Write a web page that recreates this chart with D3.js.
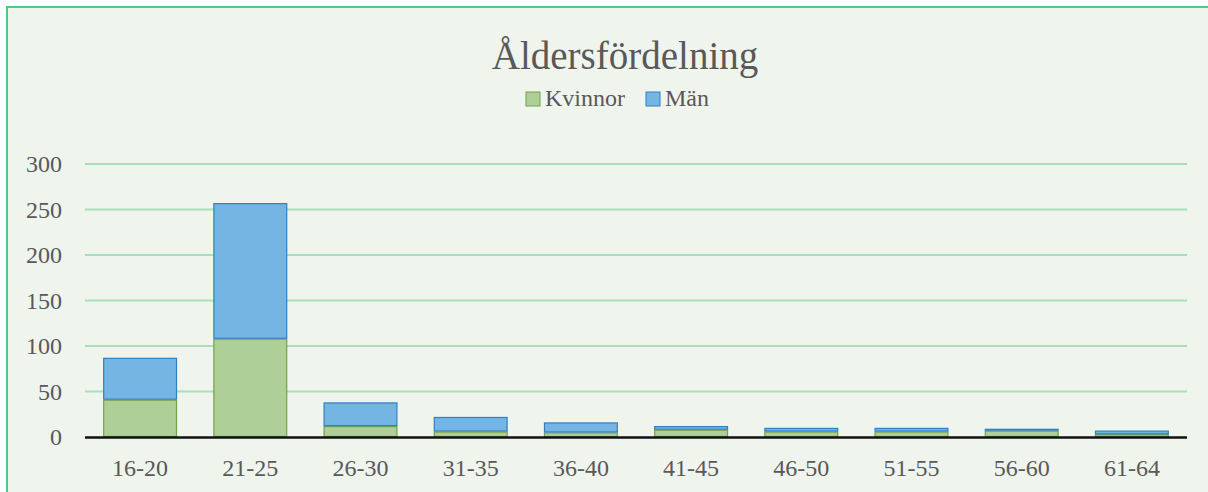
<!DOCTYPE html>
<html>
<head>
<meta charset="utf-8">
<script src="https://cdn.jsdelivr.net/npm/d3@7"></script>
<style>
  html, body { margin: 0; padding: 0; background: #ffffff; }
  svg { display: block; }
  text { font-family: "Liberation Serif", serif; fill: #595959; }
</style>
</head>
<body>
<svg id="chart"></svg>
<script>
// Chart data
const categories = ['16-20', '21-25', '26-30', '31-35', '36-40', '41-45', '46-50', '51-55', '56-60', '61-64'];
const kvinnor = [41, 108, 12, 6, 5, 8, 6, 6, 7, 3];
const man = [46, 149, 26, 16, 11, 4, 4, 4, 2, 4];
const seriesNames = ['Kvinnor', 'Män'];
const yTicks = [0, 50, 100, 150, 200, 250, 300];

const W = 1208, H = 492;
const margin = { top: 164, right: 21, bottom: 55, left: 85 };

const svg = d3.select('#chart')
    .attr('width', W)
    .attr('height', H);

// Background and border (top and left visible)
svg.append('rect')
    .attr('x', 6).attr('y', 6)
    .attr('width', W - 6).attr('height', H - 6)
    .attr('fill', '#eff4ed');
svg.append('path')
    .attr('d', `M7,${H} V7 H${W}`)
    .attr('fill', 'none')
    .attr('stroke', '#4fcb7f')
    .attr('stroke-width', 2);

const x = d3.scaleBand()
    .domain(categories)
    .range([margin.left, W - margin.right])
    .paddingInner(0.33)
    .paddingOuter(0.165);

const y = d3.scaleLinear()
    .domain([0, 300])
    .range([H - margin.bottom, margin.top]);

// Gridlines
svg.append('g')
    .selectAll('line')
    .data(yTicks.filter(d => d > 0))
    .enter()
    .append('line')
    .attr('x1', margin.left)
    .attr('x2', W - margin.right)
    .attr('y1', d => y(d))
    .attr('y2', d => y(d))
    .attr('stroke', '#a5e0b9')
    .attr('stroke-width', 2);

// Stack data
const rows = categories.map((c, i) => ({ cat: c, Kvinnor: kvinnor[i], 'Män': man[i] }));
const stacked = d3.stack().keys(seriesNames)(rows);
const fills = { 'Kvinnor': '#aecf98', 'Män': '#75b5e4' };
const strokes = { 'Kvinnor': '#72a24c', 'Män': '#2f80c4' };

svg.append('g')
    .selectAll('g')
    .data(stacked)
    .enter()
    .append('g')
    .attr('fill', d => fills[d.key])
    .attr('stroke', d => strokes[d.key])
    .attr('stroke-width', 1.2)
    .selectAll('rect')
    .data(d => d)
    .enter()
    .append('rect')
    .attr('x', d => x(d.data.cat) + 0.5)
    .attr('y', d => y(d[1]) + 0.5)
    .attr('width', x.bandwidth() - 1)
    .attr('height', d => Math.max(0, y(d[0]) - y(d[1]) - 1));

// Zero axis line
svg.append('line')
    .attr('x1', margin.left)
    .attr('x2', W - margin.right)
    .attr('y1', y(0) + 0.5)
    .attr('y2', y(0) + 0.5)
    .attr('stroke', '#111')
    .attr('stroke-width', 2.5);

// Y axis labels
svg.append('g')
    .selectAll('text')
    .data(yTicks)
    .enter()
    .append('text')
    .attr('x', 62)
    .attr('y', d => y(d) + 8)
    .attr('text-anchor', 'end')
    .attr('font-size', 24)
    .text(d => d);

// X axis labels
svg.append('g')
    .selectAll('text')
    .data(categories)
    .enter()
    .append('text')
    .attr('x', d => x(d) + x.bandwidth() / 2)
    .attr('y', y(0) + 39)
    .attr('text-anchor', 'middle')
    .attr('font-size', 24)
    .text(d => d);

// Title
svg.append('text')
    .attr('x', 625)
    .attr('y', 69)
    .attr('text-anchor', 'middle')
    .attr('font-size', 39)
    .text('Åldersfördelning');

// Legend
const legendX = [526, 646];
const legend = svg.append('g')
    .selectAll('g')
    .data(seriesNames)
    .enter()
    .append('g')
    .attr('transform', (d, i) => `translate(${legendX[i]},92)`);
legend.append('rect')
    .attr('width', 14).attr('height', 14)
    .attr('fill', d => fills[d])
    .attr('stroke', d => strokes[d]);
legend.append('text')
    .attr('x', 19)
    .attr('y', 14)
    .attr('font-size', 24)
    .text(d => d);
</script>
</body>
</html>
